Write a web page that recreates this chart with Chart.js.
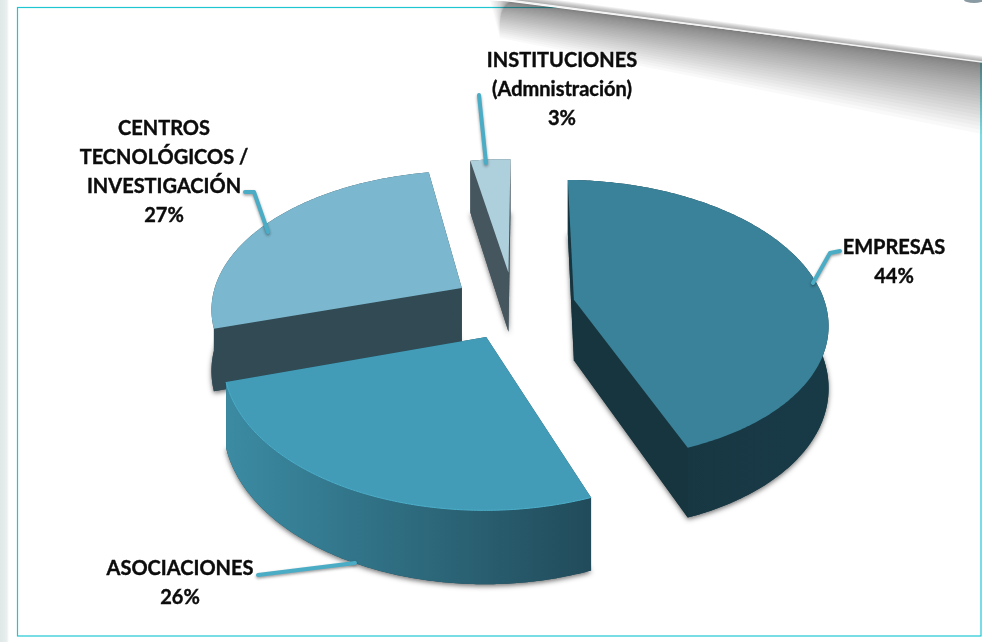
<!DOCTYPE html>
<html>
<head>
<meta charset="utf-8">
<style>html,body{margin:0;padding:0;background:#fff;overflow:hidden}canvas{display:block}</style>
<script src="https://cdn.jsdelivr.net/npm/chart.js@4"></script>
</head>
<body>
<canvas id="c" width="982" height="642"></canvas>
<script>
// Data
const categories = ['EMPRESAS', 'ASOCIACIONES', 'CENTROS TECNOLÓGICOS / INVESTIGACIÓN', 'INSTITUCIONES (Admnistración)'];
const shares = [44, 26, 27, 3];
const topColors = ['#3a8299', '#429cb8', '#7bb7ce', '#aecfdc'];
const cutColors = ['#17353f', '#214b5a', '#324a53', '#46565e'];
const wallColors = [['#17353f', '#183a47'], ['#3b8ba3', '#214b5a'], ['#324a53', '#324a53'], ['#46565e', '#46565e']];
const rimColors = ['rgba(0,0,0,0)', '#4db0cb', 'rgba(0,0,0,0)', 'rgba(0,0,0,0)'];
const explode = [70, 70, 70, 70];

// Text blocks [lines, centre x, first baseline y]
const labelBlocks = [
  {lines: ['EMPRESAS', '44%'], x: 894, y: 254},
  {lines: ['ASOCIACIONES', '26%'], x: 180, y: 575},
  {lines: ['CENTROS', 'TECNOLÓGICOS /', 'INVESTIGACIÓN', '27%'], x: 164, y: 135},
  {lines: ['INSTITUCIONES', '(Admnistración)', '3%'], x: 562, y: 67}
];
const leaders = [
  [[840, 251], [830, 253], [813, 283]],
  [[258, 575], [355, 563]],
  [[245, 192], [254, 192], [268, 232]],
  [[479, 95], [486, 163]]
];

// Camera for the tilted, perspective pie
const cam = {cx: 514, cy: 322, tilt: 0.56, k: 0.00057, radius: 256, centreY: -30, depth: 62, skew: 0.02};

function project(X, Y, z) {
  const w = 1 / (1 - cam.k * Y);
  const sy = cam.tilt * Y * w;
  return [cam.cx + X * w + cam.skew * sy, cam.cy + sy + z * cam.depth * w];
}

function pathOf(ctx, pts) {
  ctx.beginPath();
  pts.forEach((p, i) => i ? ctx.lineTo(p[0], p[1]) : ctx.moveTo(p[0], p[1]));
  ctx.closePath();
}

function drawBackdrop(ctx) {
  ctx.fillStyle = '#fff';
  ctx.fillRect(0, 0, 982, 642);
  const g = ctx.createLinearGradient(0, 0, 9, 0);
  g.addColorStop(0, '#dfe7e7'); g.addColorStop(0.75, '#e9eeee'); g.addColorStop(1, '#fff');
  ctx.fillStyle = g; ctx.fillRect(0, 0, 9, 642);
  ctx.strokeStyle = '#1fc6d2'; ctx.lineWidth = 1.2;
  ctx.strokeRect(17.5, 7.5, 963.5, 628.5);
  // page-curl shadow: thin stacked wedges, densest along the fold
  const N = 34;
  for (let i = 1; i <= N; i++) {
    const t = Math.pow(i / N, 1.9);
    ctx.fillStyle = 'rgba(50,50,50,0.03)';
    pathOf(ctx, [[540 - 50 * (i / N), 0], [982, 62], [982, 62 + 72 * t], [500, 38 * t], [520 - 30 * t, 0]]);
    ctx.fill();
  }
  // white sheet above the fold
  ctx.fillStyle = '#fff';
  pathOf(ctx, [[496, 0], [982, 62], [982, 0]]); ctx.fill();
  for (let i = 0; i < 6; i++) {
    ctx.fillStyle = 'rgba(70,70,70,0.09)';
    const h = 1 + i;
    pathOf(ctx, [[510, 0], [982, 62], [982, 62 - h], [510 + h * 7.8, 0]]); ctx.fill();
  }
  ctx.strokeStyle = '#f4f4f4'; ctx.lineWidth = 1.6;
  ctx.beginPath(); ctx.moveTo(508, 0); ctx.lineTo(982, 62); ctx.stroke();
  ctx.fillStyle = '#8a9aa2';
  ctx.beginPath(); ctx.ellipse(974, 0, 10, 3, 0, 0, Math.PI * 2); ctx.fill();
}

function drawSlice(ctx, arc, index) {
  const unit = cam.radius / arc.outerRadius;
  const mid = (arc.startAngle + arc.endAngle) / 2;
  const off = arc.options.offset * unit;
  const ox = Math.cos(mid) * off;
  const oy = Math.sin(mid) * off + cam.centreY;
  const rim = [];
  const n = Math.ceil((arc.endAngle - arc.startAngle) * 90);
  for (let i = 0; i <= n; i++) {
    const a = arc.startAngle + (arc.endAngle - arc.startAngle) * i / n;
    rim.push([ox + Math.cos(a) * cam.radius, oy + Math.sin(a) * cam.radius]);
  }
  const at = z => rim.map(p => project(p[0], p[1], z));
  const top = at(0), base = at(1);
  const aT = project(ox, oy, 0), aB = project(ox, oy, 1);

  // soft shadow under the base only
  ctx.save();
  ctx.shadowColor = 'rgba(0,0,0,0.55)'; ctx.shadowBlur = 5; ctx.shadowOffsetY = 2;
  ctx.fillStyle = cutColors[index];
  pathOf(ctx, [aB].concat(base)); ctx.fill();
  ctx.restore();

  // cut faces
  ctx.fillStyle = cutColors[index];
  pathOf(ctx, [aT, top[0], base[0], aB]); ctx.fill();
  pathOf(ctx, [aT, top[n], base[n], aB]); ctx.fill();

  // outer wall
  const xs = top.map(p => p[0]);
  const g = ctx.createLinearGradient(Math.min(...xs), 0, Math.max(...xs), 0);
  g.addColorStop(0, wallColors[index][0]); g.addColorStop(1, wallColors[index][1]);
  ctx.fillStyle = g;
  pathOf(ctx, top.concat(base.slice().reverse())); ctx.fill();

  // top face
  ctx.fillStyle = arc.options.backgroundColor;
  pathOf(ctx, [aT].concat(top)); ctx.fill();
  ctx.strokeStyle = rimColors[index]; ctx.lineWidth = 1;
  ctx.beginPath();
  top.forEach((p, i) => i ? ctx.lineTo(p[0], p[1]) : ctx.moveTo(p[0], p[1]));
  ctx.stroke();
}

const pie3d = {
  id: 'pie3d',
  beforeDatasetsDraw(chart) {
    const ctx = chart.ctx;
    const arcs = chart.getDatasetMeta(0).data;
    drawBackdrop(ctx);
    const depthOf = a => Math.sin((a.startAngle + a.endAngle) / 2);
    arcs.map((a, i) => [a, i]).sort((p, q) => depthOf(p[0]) - depthOf(q[0]))
      .forEach(([a, i]) => drawSlice(ctx, a, i));

    ctx.save();
    ctx.lineCap = 'round'; ctx.lineJoin = 'round';
    ctx.strokeStyle = '#4bacc6'; ctx.lineWidth = 4;
    ctx.shadowColor = 'rgba(0,0,0,0.4)'; ctx.shadowBlur = 3; ctx.shadowOffsetY = 1.5;
    leaders.forEach(l => {
      ctx.beginPath();
      l.forEach((p, i) => i ? ctx.lineTo(p[0], p[1]) : ctx.moveTo(p[0], p[1]));
      ctx.stroke();
    });
    ctx.restore();

    ctx.fillStyle = '#0c0c0c'; ctx.strokeStyle = '#0c0c0c'; ctx.lineWidth = 0.4;
    ctx.font = 'bold 20px Lato, sans-serif';
    ctx.textAlign = 'center'; ctx.textBaseline = 'alphabetic';
    labelBlocks.forEach(b => b.lines.forEach((t, i) => {
      ctx.fillText(t, b.x, b.y + i * 29);
      ctx.strokeText(t, b.x, b.y + i * 29);
    }));
    return false;
  }
};

new Chart(document.getElementById('c'), {
  type: 'pie',
  data: {labels: categories, datasets: [{data: shares, backgroundColor: topColors, offset: explode, borderWidth: 0}]},
  options: {
    responsive: false, animation: false, rotation: 1,
    layout: {padding: 0},
    plugins: {legend: {display: false}, tooltip: {enabled: false}}
  },
  plugins: [pie3d]
});
</script>
</body>
</html>
